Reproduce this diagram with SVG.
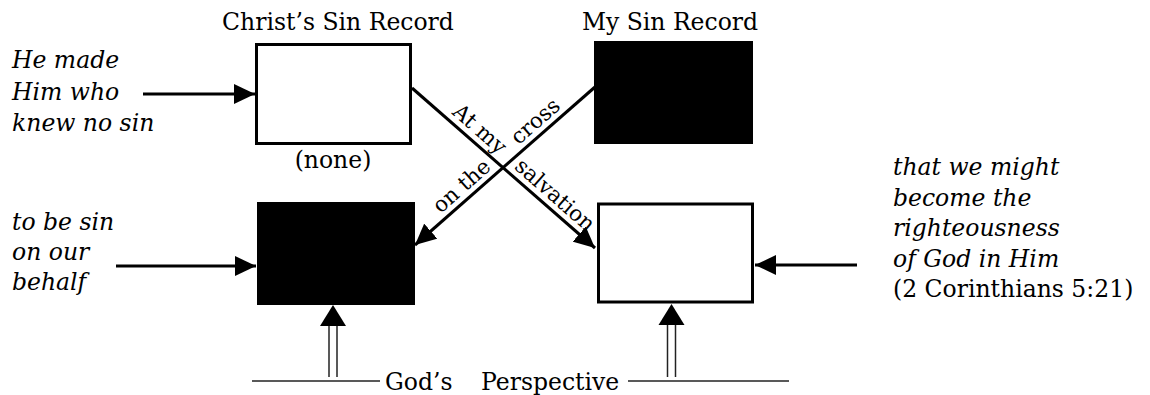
<svg xmlns="http://www.w3.org/2000/svg" width="1150" height="395" viewBox="0 0 1150 395">
<defs>
<style>
.t{font-family:"DejaVu Serif","Liberation Serif",serif;font-size:23.5px;fill:#000}
.it{font-style:italic}
.rl{font-size:21.5px}
.box{stroke:#000;stroke-width:3}
.conn{stroke:#000;stroke-width:3;fill:none}
.thin{stroke:#222;stroke-width:1.5;fill:none}
</style>
<marker id="ah" viewBox="0 0 21 20" markerWidth="21" markerHeight="20" markerUnits="userSpaceOnUse" refX="21" refY="10" orient="auto">
<path d="M0,0 L21,10 L0,20 Z" fill="#000"/>
</marker>
</defs>
<rect width="1150" height="395" fill="#fff"/>

<g id="christ-record">
<text class="t" x="338" y="30" text-anchor="middle">Christ’s Sin Record</text>
<rect class="box" x="256.5" y="44.5" width="154" height="99" fill="#fff"/>
<text class="t" x="333" y="168" text-anchor="middle">(none)</text>
</g>
<g id="my-record">
<text class="t" x="670" y="30" text-anchor="middle">My Sin Record</text>
<rect x="594" y="41" width="159" height="103" fill="#000"/>
</g>
<g id="christ-after">
<rect x="257" y="202" width="158" height="103" fill="#000"/>
</g>
<g id="my-after">
<rect class="box" x="598.5" y="204" width="154" height="98" fill="#fff"/>
</g>
<g id="label-left-top">
<text class="t it" x="12" y="68">He made</text>
<text class="t it" x="12" y="99.5">Him who</text>
<text class="t it" x="12" y="131">knew no sin</text>
</g>
<g id="label-left-bottom">
<text class="t it" x="12" y="229.5">to be sin</text>
<text class="t it" x="12" y="259.5">on our</text>
<text class="t it" x="12" y="289.5">behalf</text>
</g>
<g id="label-right">
<text class="t it" x="893" y="175">that we might</text>
<text class="t it" x="893" y="205.5">become the</text>
<text class="t it" x="893" y="236">righteousness</text>
<text class="t it" x="893" y="266.5">of God in Him</text>
<text class="t" x="893" y="297">(2 Corinthians 5:21)</text>
</g>
<g id="label-perspective">
<text class="t" x="385" y="390">God’s</text>
<text class="t" x="481" y="390">Perspective</text>
</g>

<g id="connectors">
<line class="conn" x1="143" y1="94" x2="255" y2="94" marker-end="url(#ah)"/>
<line class="conn" x1="116" y1="266" x2="256" y2="266" marker-end="url(#ah)"/>
<line class="conn" x1="857" y1="265" x2="755" y2="265" marker-end="url(#ah)"/>
<line class="conn" x1="412" y1="88" x2="595" y2="248" marker-end="url(#ah)"/>
<line class="conn" x1="595" y1="87" x2="415" y2="245" marker-end="url(#ah)"/>
<text class="t rl" text-anchor="middle" transform="translate(475,134.4) rotate(41.17)">At my</text>
<text class="t rl" text-anchor="middle" transform="translate(550.3,200.3) rotate(41.17)">salvation</text>
<text class="t rl" text-anchor="middle" transform="translate(466.3,191.3) rotate(-41.28)">on the</text>
<text class="t rl" text-anchor="middle" transform="translate(540,126.6) rotate(-41.28)">cross</text>
<line class="thin" x1="329" y1="377" x2="329" y2="325"/>
<line class="thin" x1="337" y1="377" x2="337" y2="325"/>
<polygon points="333,305 346,326 320,326" fill="#000"/>
<line class="thin" x1="667.5" y1="377" x2="667.5" y2="324"/>
<line class="thin" x1="675.5" y1="377" x2="675.5" y2="324"/>
<polygon points="671.5,304 684.5,325 658.5,325" fill="#000"/>
<line class="thin" x1="252" y1="381" x2="380" y2="381"/>
<line class="thin" x1="628" y1="381" x2="789" y2="381"/>
</g>
</svg>
